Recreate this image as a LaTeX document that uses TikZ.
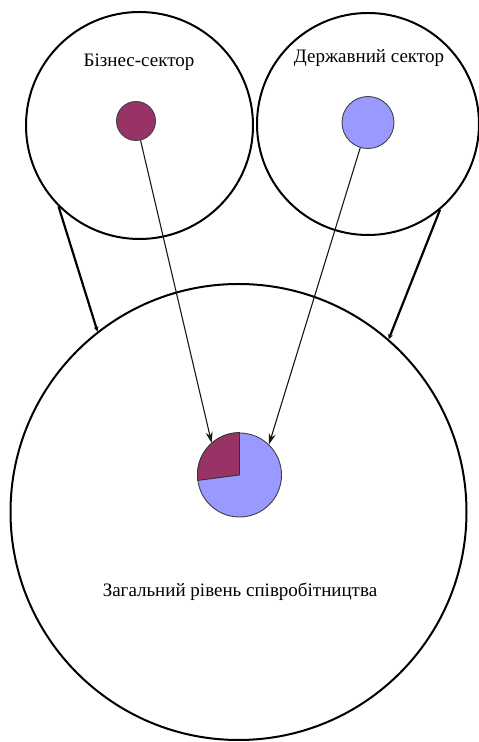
\documentclass[tikz,border=0pt]{standalone}
\usepackage{fontspec}
\setmainfont{Liberation Serif}
\usetikzlibrary{arrows.meta}
\definecolor{maroon}{HTML}{993366}
\definecolor{lav}{HTML}{9999FF}
\tikzset{
  bigcirc/.style={circle,draw=black,line width=2pt,inner sep=0pt},
  dot/.style={circle,draw=black!75,line width=0.9pt,inner sep=0pt},
  thinarrow/.style={draw=black!90,line width=1.1pt,-{Stealth[length=11pt,width=7pt]}},
  thickline/.style={draw=black,line width=2.2pt,-{Stealth[length=5pt,width=5pt]}},
  lbl/.style={font=\rmfamily\fontsize{19}{22}\selectfont}
}
\begin{document}
\begin{tikzpicture}[x=1pt,y=1pt]
\useasboundingbox (0,0) rectangle (479,742);
\node[bigcirc,minimum size=227pt] (L) at (139.5,616.5) {};
\node[bigcirc,minimum size=222pt] (R) at (368,618) {};
\node[bigcirc,minimum size=456pt] (B) at (238.5,230) {};
\node[dot,fill=maroon,minimum size=39pt] (d1) at (136,621) {};
\node[dot,fill=lav,minimum size=52pt] (d2) at (368,619.5) {};
\node[dot,fill=lav,minimum size=84pt] (pie) at (239.5,267) {};
\fill[maroon,draw=black!80,line width=0.9pt] (pie.center) -- (pie.90) arc[start angle=90,end angle=188,radius=42pt] -- cycle;
\node[lbl] (t1) at (139,680) {Бізнес-сектор};
\node[lbl] (t2) at (369,684) {Державний сектор};
\node[lbl] (t3) at (240,150) {Загальний рівень співробітництва};
\draw[thinarrow] (d1) -- (pie.131.7);
\draw[thinarrow] (d2) -- (pie.46.4);
\draw[thickline] (L.225) -- (B.128.6);
\draw[thickline] (R.-50) -- (B.49.7);
\end{tikzpicture}
\end{document}
